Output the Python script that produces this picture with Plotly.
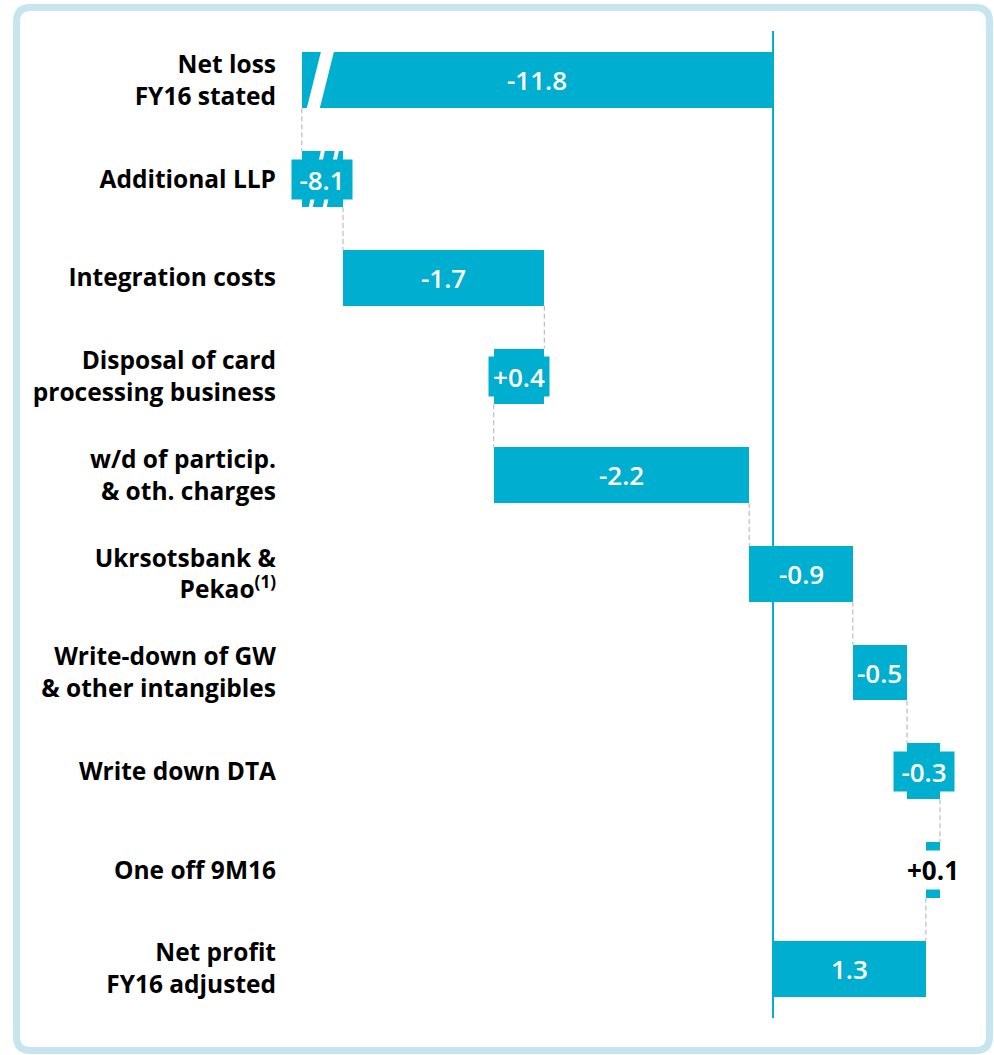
import plotly.graph_objects as go

# ---------------- data ----------------
categories = [
    "Net loss<br>FY16 stated",
    "Additional LLP",
    "Integration costs",
    "Disposal of card<br>processing business",
    "w/d of particip.<br>& oth. charges",
    "Ukrsotsbank &<br>Pekao<sup>(1)</sup>",
    "Write-down of GW<br>& other intangibles",
    "Write down DTA",
    "One off 9M16",
    "Net profit<br>FY16 adjusted",
]
# bn EUR, first and last are totals, the rest are adjustments
values = [-11.8, -8.1, -1.71, 0.43, -2.17, -0.88, -0.46, -0.28, 0.12, 1.3]

# ---------------- styling / geometry ----------------
BAR = "#00AECF"
FRAME = "#C7E5EF"
GREY = "#BDBDBD"
BREAK = -4.0                      # axis is broken below this value
XR = [-4.10, 1.59]
ML, MR, MT, MB = 290, 34, 31, 37
W, H = 994, 1055
PW, PH = W - ML - MR, H - MT - MB
PX = PW / (XR[1] - XR[0])         # px per data unit (x)
n = len(values)
PY = PH / n                       # px per row
BW = 0.565
hw = BW / 2

# levels of the waterfall, built from bottom (net profit) upward
L = [None] * (n + 1)
L[n - 1] = values[-1]
for k in range(n - 2, 0, -1):
    L[k] = L[k + 1] + values[k]

spans = []
for k in range(n):
    if k == 0 or k == n - 1:
        a, b = 0.0, values[k]
    else:
        a, b = L[k + 1], L[k]
    spans.append((min(a, b), max(a, b)))

bases = [max(lo, BREAK) for lo, hi in spans]
lengths = [hi - max(lo, BREAK) for lo, hi in spans]
labels = [f"{v:.1f}" if k in (0, n - 1) else f"{v:+.1f}" for k, v in enumerate(values)]

fig = go.Figure()

# connectors
cx, cy = [], []
for k in range(n - 1):
    if k == 0:
        c = max(min(spans[0][0], spans[1][0]), BREAK)
    else:
        c = max(L[k + 1], BREAK)
    cx += [c, c, None]
    cy += [k + hw, k + 1 - hw, None]
fig.add_trace(go.Scatter(x=cx, y=cy, mode="lines",
                         line=dict(color=GREY, width=1.2, dash="5px,3px"),
                         hoverinfo="skip", showlegend=False))

fig.add_trace(go.Bar(orientation="h", y=list(range(n)), x=lengths, base=bases,
                     width=BW, marker=dict(color=BAR, line=dict(width=0)),
                     hoverinfo="skip", showlegend=False))

shapes = []


def slash(row, bot_l, bot_r, top_l, top_r):
    e = 1.5 / PY
    yt, yb = row - hw - e, row + hw + e
    sl = (top_l - bot_l) / (2 * hw * PY)  # px shift per px height
    ext = 1.5 * sl
    xs = lambda p: BREAK + p / PX
    path = (f"M {xs(bot_l - ext)},{yb} L {xs(bot_r - ext)},{yb} "
            f"L {xs(top_r + ext)},{yt} L {xs(top_l + ext)},{yt} Z")
    shapes.append(dict(type="path", path=path, xref="x", yref="y",
                       fillcolor="white", line=dict(width=0), layer="above"))


# break marks
for k, (lo, hi) in enumerate(spans):
    if lo < BREAK:
        if k == 0:
            slash(k, 5, 18, 19, 32)
        else:
            slash(k, 7, 11, 19, 23)
            slash(k, 21, 25, 33, 37)

# frame
def px2p(x):
    return (x - ML) / PW


def py2p(y):
    return (H - MB - y) / PH


l_, r_, t_, b_ = 16.5, 989.5, 7.5, 1050.5
rad = 14
P = lambda x, y: f"{px2p(x)},{py2p(y)}"
frame_path = (f"M {P(l_ + rad, t_)} L {P(r_ - rad, t_)} Q {P(r_, t_)} {P(r_, t_ + rad)} "
              f"L {P(r_, b_ - rad)} Q {P(r_, b_)} {P(r_ - rad, b_)} "
              f"L {P(l_ + rad, b_)} Q {P(l_, b_)} {P(l_, b_ - rad)} "
              f"L {P(l_, t_ + rad)} Q {P(l_, t_)} {P(l_ + rad, t_)} Z")
shapes.append(dict(type="path", path=frame_path, xref="paper", yref="paper",
                   line=dict(color=FRAME, width=7), layer="below"))

# value labels
anns = []
vfont = dict(family="Open Sans", size=26, color="white", weight=600)
for k in range(n):
    bpx = lengths[k] * PX
    xc = bases[k] + lengths[k] / 2
    if bpx < 20:
        anns.append(dict(x=xc, y=k, xref="x", yref="y", text=labels[k], showarrow=False,
                         font=dict(vfont, color="black", weight="bold"), bgcolor="white",
                         height=36, width=62, xanchor="center", yanchor="middle"))
    elif bpx < 53:
        anns.append(dict(x=xc, y=k, xref="x", yref="y", text=labels[k], showarrow=False,
                         font=vfont, bgcolor=BAR, height=37, width=58,
                         xanchor="center", yanchor="middle"))
    else:
        anns.append(dict(x=xc, y=k, xref="x", yref="y", text=labels[k], showarrow=False,
                         font=vfont, xanchor="center", yanchor="middle"))

fig.update_layout(
    width=W, height=H,
    margin=dict(l=ML, r=MR, t=MT, b=MB),
    paper_bgcolor="white", plot_bgcolor="white",
    font=dict(family="Open Sans", color="black"),
    shapes=shapes, annotations=anns,
    bargap=0, showlegend=False,
    xaxis=dict(range=XR, showgrid=False, showticklabels=False, ticks="",
               zeroline=True, zerolinecolor=BAR, zerolinewidth=1.6, fixedrange=True),
    yaxis=dict(range=[n - 0.5, -0.5], tickmode="array", tickvals=list(range(n)),
               ticktext=categories, showgrid=False, zeroline=False, ticks="",
               tickfont=dict(family="Open Sans", size=24.5, color="black", weight="bold"),
               ticklabelstandoff=13, fixedrange=True),
)

fig.write_html("out.html", config={"displayModeBar": False, "staticPlot": True},
               post_script="document.body.style.margin='0';document.body.style.overflow='hidden';")
